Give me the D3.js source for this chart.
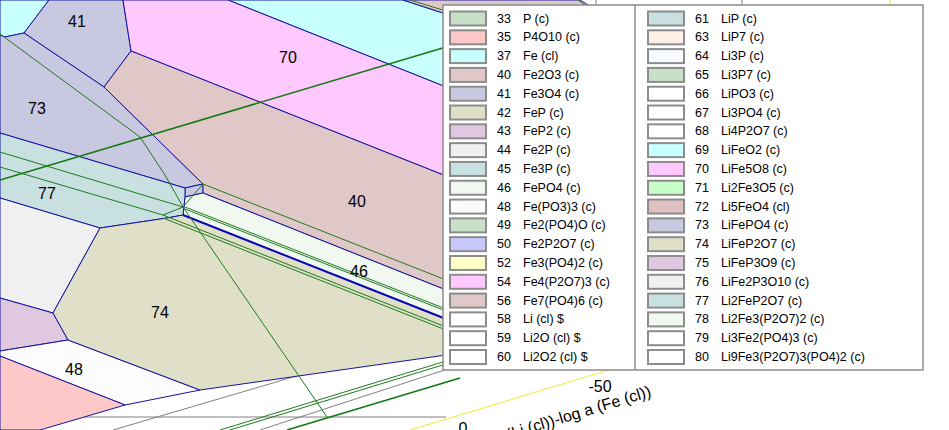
<!DOCTYPE html>
<html><head><meta charset="utf-8">
<script src="https://cdn.jsdelivr.net/npm/d3@7"></script>
<style>body{margin:0;background:#fff;overflow:hidden}svg{display:block}</style>
</head><body><svg id="c" width="949" height="430"></svg>
<script>
// ---- legend data ----
const legendIds = [33,35,37,40,41,42,43,44,45,46,48,49,50,52,54,56,58,59,60,
                   61,63,64,65,66,67,68,69,70,71,72,73,74,75,76,77,78,79,80];
const legendNames = ["P (c)","P4O10 (c)","Fe (cl)","Fe2O3 (c)","Fe3O4 (c)","FeP (c)","FeP2 (c)","Fe2P (c)","Fe3P (c)","FePO4 (c)",
  "Fe(PO3)3 (c)","Fe2(PO4)O (c)","Fe2P2O7 (c)","Fe3(PO4)2 (c)","Fe4(P2O7)3 (c)","Fe7(PO4)6 (c)","Li (cl)  $","Li2O (cl)  $","Li2O2 (cl)  $",
  "LiP (c)","LiP7 (c)","Li3P (c)","Li3P7 (c)","LiPO3 (c)","Li3PO4 (c)","Li4P2O7 (c)","LiFeO2 (c)","LiFe5O8 (c)","Li2Fe3O5 (c)",
  "Li5FeO4 (cl)","LiFePO4 (c)","LiFeP2O7 (c)","LiFeP3O9 (c)","LiFe2P3O10 (c)","Li2FeP2O7 (c)","Li2Fe3(P2O7)2 (c)","Li3Fe2(PO4)3 (c)","Li9Fe3(P2O7)3(PO4)2 (c)"];
const legendColors = ["#c8e0c8","#ffc8c8","#c8ffff","#e0c8c8","#c8c8e0","#e0e0c8","#e0c8e0","#f0f0f0","#c8e0e0","#f0f8f0",
  "#fcfcff","#c8e0c8","#c8c8ff","#ffffc8","#ffc8ff","#e0c8c8","#ffffff","#ffffff","#ffffff",
  "#c8e0e0","#fff0e8","#f8fcff","#c8e0c8","#ffffff","#ffffff","#ffffff","#c8ffff","#ffc8ff","#c8ffc8",
  "#e0c0c0","#c8c8e0","#e0e0c8","#e0c8e0","#f0f0f0","#c8e0e0","#f0f8f0","#ffffff","#ffffff"];

// ---- stability regions (projected diagram units) ----
const regionIds = [37,69,40,41,70,73,73,40,46,77,76,75,48,35,74];
const regionVertices = [
  [[0,0],[49,0],[24,33],[5,37],[0,35]],
  [[228,0],[403,0],[446,14],[446,87]],
  [[403,0],[580,0],[600,12],[446,14]],
  [[49,0],[123,0],[131,51],[104,87],[24,33]],
  [[123,0],[228,0],[446,87],[446,176],[131,51]],
  [[0,35],[5,37],[24,33],[104,87],[203,184],[185,188],[0,133]],
  [[185,188],[203,184],[203,193],[185,197]],
  [[104,87],[131,51],[446,176],[446,290],[203,193],[203,184]],
  [[185,197],[203,193],[446,290],[446,319],[183,215]],
  [[0,133],[185,188],[185,197],[183,215],[167,218],[100,228],[0,198]],
  [[0,198],[100,228],[53,313],[0,298]],
  [[0,298],[53,313],[68,340],[0,351]],
  [[0,351],[68,340],[200,390],[125,405],[0,356]],
  [[0,356],[125,405],[40,430],[0,430]],
  [[100,228],[167,218],[183,215],[446,319],[446,355],[200,390],[68,340],[53,313]]
];
const labelIds = [41,70,73,77,40,46,74,48];
const labelPoints = [[77,21],[288,57],[37,108],[47,193],[357,201],[359,271],[160,312],[74,369]];

// ---- boundary / reference lines ----
const greyLines = [
  [[0,417],[446,417]],
  [[113,430],[300,375]],
  [[260,430],[460,365]],
  [[596,0],[596,8]],
  [[742,0],[742,8]]
];
const thickBlueLines = [[[183,215],[446,319]]];
const thinGreenLines = [
  [[0,34],[140,137],[165,175],[183,207],[327,417]],
  [[0,152],[183,207]],
  [[0,167],[163,215]],
  [[163,215],[183,207],[203,184]],
  [[203,184],[446,280]],
  [[410,0],[446,11]],
  [[578,0],[592,10]],
  [[163,215],[446,327]],
  [[163,218],[446,330]],
  [[185,207],[446,309]],
  [[185,209],[446,311]],
  [[220,430],[446,361]],
  [[220,433],[446,364]]
];
const thickGreenLines = [
  [[0,180],[446,47]],
  [[287,430],[460,378]]
];
const yellowLines = [[[410,430],[612,369]],[[890,0],[890,7]]];
const axisTicks = [["-50",600,386],["0",463,434]];
const axisTitle = "log a (Li (cl))-log a (Fe (cl))";

// ---- drawing ----
const W = 949, H = 430;
const svg = d3.select("#c");
const x = d3.scaleLinear().domain([0, 949]).range([0, W]);
const y = d3.scaleLinear().domain([0, 430]).range([0, H]);
const line = d3.line().x(d => x(d[0])).y(d => y(d[1]));
const colorOf = id => legendColors[legendIds.indexOf(id)];
const font = "'Liberation Sans', Arial, sans-serif";

svg.append("rect").attr("width", W).attr("height", H).attr("fill", "#fff");

svg.append("g").selectAll("path").data(greyLines).join("path")
  .attr("d", line).attr("fill", "none").attr("stroke", "#808080").attr("stroke-width", 1);

svg.append("g").selectAll("path").data(regionVertices).join("path")
  .attr("d", d => line(d) + "Z")
  .attr("fill", (d, i) => colorOf(regionIds[i]))
  .attr("stroke", "#1414a0").attr("stroke-width", 1).attr("stroke-linejoin", "round");

svg.append("g").selectAll("path").data(thickBlueLines).join("path")
  .attr("d", line).attr("fill", "none").attr("stroke", "#0a0ab4").attr("stroke-width", 2);

svg.append("g").selectAll("path").data(thinGreenLines).join("path")
  .attr("d", line).attr("fill", "none").attr("stroke", "#1e7a1e").attr("stroke-width", 1);
svg.append("g").selectAll("path").data(thickGreenLines).join("path")
  .attr("d", line).attr("fill", "none").attr("stroke", "#147814").attr("stroke-width", 1.6);
svg.append("g").selectAll("path").data(yellowLines).join("path")
  .attr("d", line).attr("fill", "none").attr("stroke", "#eeee50").attr("stroke-width", 1.2);

svg.append("g").selectAll("text").data(labelIds).join("text")
  .attr("x", (d, i) => x(labelPoints[i][0])).attr("y", (d, i) => y(labelPoints[i][1]))
  .attr("text-anchor", "middle").attr("dominant-baseline", "central")
  .attr("font-family", font).attr("font-size", 16).attr("fill", "#000").text(d => d);

svg.append("g").selectAll("text").data(axisTicks).join("text")
  .attr("x", d => x(d[1])).attr("y", d => y(d[2]))
  .attr("text-anchor", "middle")
  .attr("dominant-baseline", d => d[0] === "0" ? "auto" : "central")
  .attr("font-family", font).attr("font-size", 16).text(d => d[0]);

svg.append("text").attr("transform", `translate(${x(652)},${y(396)}) rotate(-17)`)
  .attr("text-anchor", "end").attr("font-family", font).attr("font-size", 16).text(axisTitle);

// legend
const lg = svg.append("g");
const LX = 443, LY = 5, LW = 480, LH = 365, colX = 635, rows = 19;
const rowY = d3.scaleLinear().domain([0, rows - 1]).range([18.5, 357]);
lg.append("rect").attr("x", LX).attr("y", LY).attr("width", LW).attr("height", LH)
  .attr("fill", "#fff").attr("stroke", "#8c8c8c").attr("stroke-width", 1.5);
lg.append("line").attr("x1", colX).attr("x2", colX).attr("y1", LY).attr("y2", LY + LH)
  .attr("stroke", "#8c8c8c").attr("stroke-width", 1.5);
const items = legendIds.map((id, i) => ({id, name: legendNames[i], color: legendColors[i], col: i < rows ? 0 : 1, row: i < rows ? i : i - rows}));
const colOff = [0, 198];
const it = lg.selectAll("g.item").data(items).join("g").attr("class", "item")
  .attr("transform", d => `translate(${colOff[d.col]},${rowY(d.row)})`);
it.append("rect").attr("x", 450).attr("y", -7).attr("width", 36).attr("height", 14)
  .attr("fill", d => d.color).attr("stroke", "#8c8c8c").attr("stroke-width", 2);
it.append("text").attr("x", 497).attr("y", 0).attr("dominant-baseline", "central")
  .attr("font-family", font).attr("font-size", 12.5).text(d => d.id);
it.append("text").attr("x", 523).attr("y", 0).attr("dominant-baseline", "central")
  .attr("font-family", font).attr("font-size", 12.5).text(d => d.name);
</script></body></html>
